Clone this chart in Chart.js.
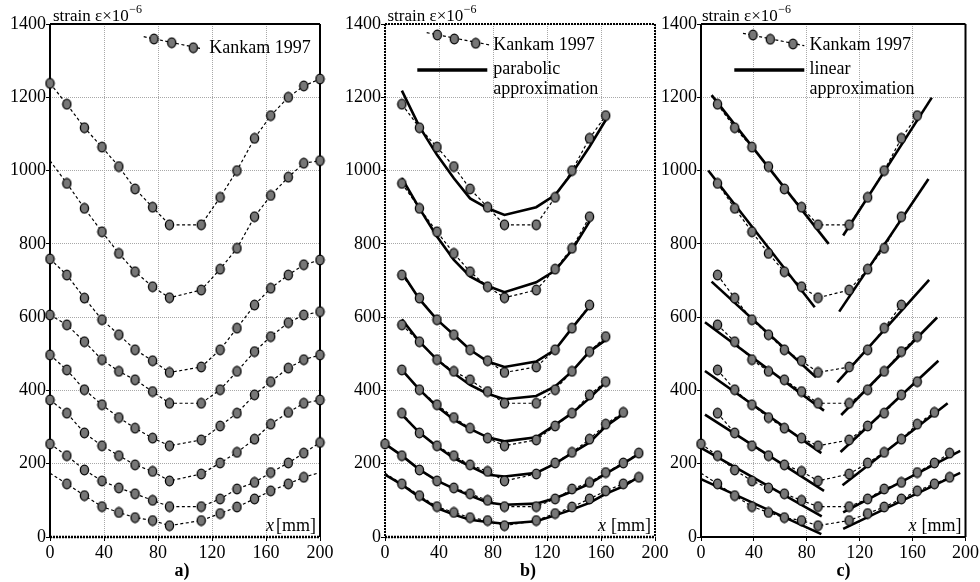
<!DOCTYPE html>
<html><head><meta charset="utf-8">
<script src="https://cdn.jsdelivr.net/npm/chart.js@4.4.1/dist/chart.umd.min.js"></script>
<style>
html,body{margin:0;padding:0;background:#fff;width:980px;height:582px;overflow:hidden}
canvas{position:absolute;top:0}
</style></head><body>
<canvas id="ca" width="345" height="582" style="left:0px"></canvas>
<canvas id="cb" width="345" height="582" style="left:330px"></canvas>
<canvas id="cc" width="320" height="582" style="left:660px"></canvas>
<script>
// ---- data ----
const xPos = [0,12.5,25.5,38.5,51,63,76,88.5,112,126,138.5,151.5,163.5,176.5,188,200];
const kankam1 = [1238,1181,1117,1064,1011,950,900,852,852,927,1000,1088,1150,1200,1231,1250];
const kankam2 = [1027,965,897,833,774,724,683,653,674,731,788,874,932,982,1020,1027];
const kankam3 = [759,715,652,593,552,511,481,449,464,511,570,633,679,715,743,756];
const kankam4 = [606,579,533,484,452,429,397,365,365,402,452,506,547,585,606,615];
const kankam5 = [497,456,402,361,326,297,270,249,265,303,338,388,424,461,484,497];
const kankam6 = [374,338,284,249,222,197,179,153,172,202,231,267,308,340,365,374];
const kankam7 = [254,222,183,153,134,118,100,83,83,104,131,149,176,202,229,258];
const kankam8 = [174,145,113,83,67,53,45,31,45,64,82,104,126,145,163,176];
const kankam = [kankam1,kankam2,kankam3,kankam4,kankam5,kankam6,kankam7,kankam8];
// points drawn without a marker in panel a
const noMarkerA = [[],[0],[],[],[],[],[],[0,15]];
// index ranges of the points used in panels b and c
const rangeBC = [[1,12],[1,11],[1,11],[1,12],[1,12],[1,13],[0,14],[0,14]];
const noMarkerBC = [[],[],[],[],[],[],[],[0]];
// parabolic approximation (values at xPos within rangeBC)
const parab1 = [1218,1120,1043,979,924,897,879,900,933,993,1065,1138];
const parab2 = [979,897,820,756,711,685,668,695,727,783,861];
const parab3 = [722,649,593,552,511,479,464,479,511,570,629];
const parab4 = [594,533,484,447,415,391,376,385,411,452,506,538];
const parab5 = [456,402,356,320,295,272,261,272,306,338,379,422];
const parab6 = [334,285,247,215,193,170,165,175,200,229,258,302,336];
const parab7 = [254,222,184,154,132,113,94,88,91,106,124,145,173,200,227];
const parab8 = [170,143,109,79,61,47,41,36,43,59,75,93,118,138,164];
const parab = [parab1,parab2,parab3,parab4,parab5,parab6,parab7,parab8];
// linear approximation: left and right segments
const linLeftX  = [[8,96.5],[5.5,86],[8,87],[3,93],[3,91],[3,93],[0,91.3],[0,91]];
const linLeftY  = [[1206,800],[1000,627],[697,436],[586,345],[453,229],[334,126],[243,56],[158,8]];
const linRightX = [[107.5,174.5],[104.5,172],[103,172.5],[106,178.5],[105.5,179.5],[107,186.5],[107.5,196],[107.5,196]];
const linRightY = [[823,1199],[615,977],[422,702],[333,599],[232,481],[141,365],[67,235],[22,175]];
const xTicks = {min:0, max:200, step:40};
const yTicks = {min:0, max:1400, step:200};

// ---- style ----
const FONT = '"Liberation Serif","Times New Roman",serif';
Chart.defaults.font.family = FONT;
Chart.defaults.color = '#000';

function makeMarker(){
  const c = document.createElement('canvas'); c.width = 11; c.height = 12;
  const g = c.getContext('2d');
  g.beginPath(); g.ellipse(5.5,6,4.1,4.8,0,0,Math.PI*2);
  g.fillStyle = '#777'; g.fill();
  g.lineWidth = 1.3; g.strokeStyle = '#000'; g.stroke();
  return c;
}
const marker = makeMarker();

function kankamDS(vals, from, to, hidden){
  const data = [];
  for (let i = from; i <= to; i++) data.push({x:xPos[i], y:vals[i]});
  return {data, borderColor:'#000', borderWidth:1.2, borderDash:[3,2.5], tension:0,
    pointStyle:marker, pointRadius: c => hidden.includes(from + c.dataIndex) ? 0 : 4,
    clip:false, order:0};
}
function solidDS(data){
  return {data, borderColor:'#000', borderWidth:2.6, tension:0, pointRadius:0, clip:false, order:1};
}

function drawFrame(ctx, a, sides){
  ctx.save();
  ctx.strokeStyle = '#000';
  const seg = (s, x1,y1,x2,y2) => {
    ctx.lineWidth = s.w; ctx.setLineDash(s.dash || []);
    ctx.beginPath(); ctx.moveTo(x1,y1); ctx.lineTo(x2,y2); ctx.stroke();
  };
  seg(sides.top, a.left, a.top, a.right, a.top);
  seg(sides.right, a.right, a.top, a.right, a.bottom);
  seg(sides.bottom, a.left, a.bottom, a.right, a.bottom);
  seg(sides.left, a.left, a.top, a.left, a.bottom);
  ctx.restore();
}

function decor(o){
  return {
    id:'decor',
    beforeDatasetsDraw(chart){ drawFrame(chart.ctx, chart.chartArea, o.sides); },
    afterDraw(chart){
      const ctx = chart.ctx, a = chart.chartArea, L = o.legend;
      ctx.save();
      ctx.strokeStyle = '#000'; ctx.lineWidth = 1.2; ctx.setLineDash([3,2.5]);
      ctx.beginPath(); ctx.moveTo(a.left+L.d0[0], a.top+L.d0[1]); ctx.lineTo(a.left+L.d1[0], a.top+L.d1[1]); ctx.stroke();
      ctx.setLineDash([]);
      L.m.forEach(p => ctx.drawImage(marker, a.left+p[0]-5.5, a.top+p[1]-6));
      ctx.fillStyle = '#000'; ctx.textAlign = 'left'; ctx.textBaseline = 'alphabetic';
      ctx.font = '18px ' + FONT;
      ctx.fillText('Kankam 1997', a.left+L.tx, a.top+L.ty);
      if (L.solid){
        ctx.lineWidth = 3.6;
        ctx.beginPath(); ctx.moveTo(a.left+L.solid[0], a.top+L.solid[2]); ctx.lineTo(a.left+L.solid[1], a.top+L.solid[2]); ctx.stroke();
        ctx.fillText(L.lines[0], a.left+L.tx, a.top+L.ty+24);
        ctx.fillText(L.lines[1], a.left+L.tx, a.top+L.ty+44);
      }
      ctx.font = '17px ' + FONT;
      const t = 'strain \u03B5\u00D710';
      ctx.fillText(t, a.left+o.ytx, 20.5);
      const w = ctx.measureText(t).width;
      ctx.font = '12px ' + FONT;
      ctx.fillText('\u22126', a.left+o.ytx+w+0.5, 12.5);
      ctx.font = '18px ' + FONT;
      ctx.textAlign = 'right';
      ctx.fillText('[mm]', a.right-4, a.bottom-6);
      const w2 = ctx.measureText('[mm]').width;
      ctx.font = 'italic 18px ' + FONT;
      ctx.fillText('x', a.right-4-w2-o.xgap, a.bottom-6);
      ctx.font = 'bold 18px ' + FONT;
      ctx.textAlign = 'center';
      ctx.fillText(o.letter, a.left+o.letterX, 576);
      ctx.restore();
    }
  };
}

function makeChart(id, datasets, yWidth, padRight, o){
  const grid = {color:'#a8a8a8', lineWidth:1, tickColor:'#000', tickLength:4, tickWidth:1};
  new Chart(document.getElementById(id), {
    type:'line',
    data:{datasets},
    options:{
      responsive:false, animation:false, events:[],
      layout:{padding:{top:24, right:padRight, left:0, bottom:0}},
      plugins:{legend:{display:false}, tooltip:{enabled:false}},
      scales:{
        x:{type:'linear', min:xTicks.min, max:xTicks.max,
           ticks:{stepSize:xTicks.step, padding:1, maxRotation:0, autoSkip:false, font:{size:18},
                  callback:v => String(v)},
           grid, border:{display:false, dash:[1,1]},
           afterFit:s => { s.height = 45; }},
        y:{type:'linear', min:yTicks.min, max:yTicks.max,
           ticks:{stepSize:yTicks.step, padding:0, font:{size:18}, callback:v => String(v)},
           grid, border:{display:false, dash:[1,1]},
           afterFit:s => { s.width = yWidth; }}
      }
    },
    plugins:[decor(o)]
  });
}

// panel a
const dsA = kankam.map((v,i) => kankamDS(v, 0, 15, noMarkerA[i]));
makeChart('ca', dsA, 50, 25, {
  sides:{top:{w:2}, right:{w:2}, left:{w:2}, bottom:{w:2.5, dash:[2,1]}},
  legend:{d0:[93.7,12.7], d1:[150,24.3], m:[[104,15],[121.7,18.7],[143.3,23.7]], tx:159.3, ty:29},
  ytx:3, xgap:2, letter:'a)', letterX:132
});

// panel b
const dsB = [];
kankam.forEach((v,i) => dsB.push(kankamDS(v, rangeBC[i][0], rangeBC[i][1], noMarkerBC[i])));
parab.forEach((p,i) => {
  const r = rangeBC[i];
  dsB.push(solidDS(p.map((y,k) => ({x:xPos[r[0]+k], y}))));
});
makeChart('cb', dsB, 55, 20, {
  sides:{top:{w:2, dash:[2,1]}, right:{w:2, dash:[2,1]}, left:{w:2, dash:[2,1]}, bottom:{w:2.5, dash:[2,1]}},
  legend:{d0:[41.7,8.7], d1:[105,21], m:[[52.3,11],[69.3,15],[90.7,19.3]], tx:108.3, ty:26,
          solid:[32.3,102.3,46], lines:['parabolic','approximation']},
  ytx:2.5, xgap:5, letter:'b)', letterX:143
});

// panel c
const dsC = [];
kankam.forEach((v,i) => dsC.push(kankamDS(v, rangeBC[i][0], rangeBC[i][1], noMarkerBC[i])));
linLeftX.forEach((xs,i) => {
  dsC.push(solidDS(xs.map((x,k) => ({x, y:linLeftY[i][k]}))));
  dsC.push(solidDS(linRightX[i].map((x,k) => ({x, y:linRightY[i][k]}))));
});
makeChart('cc', dsC, 41, 9, {
  sides:{top:{w:2}, right:{w:2}, left:{w:2}, bottom:{w:2}},
  legend:{d0:[42,9.3], d1:[103.3,21.7], m:[[52,11],[69.3,15.3],[92,20]], tx:108.6, ty:26,
          solid:[33.3,103.3,46], lines:['linear','approximation']},
  ytx:1, xgap:5, letter:'c)', letterX:142.6
});
</script>
</body></html>
